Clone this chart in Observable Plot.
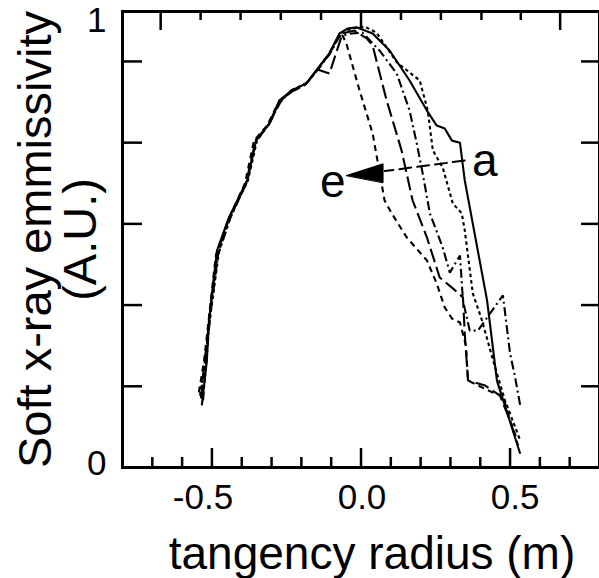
<!DOCTYPE html>
<html><head><meta charset="utf-8">
<script src="https://cdn.jsdelivr.net/npm/d3@7"></script>
<script src="https://cdn.jsdelivr.net/npm/@observablehq/plot@0.6"></script>
<style>body{margin:0;background:#fff}svg{display:block}</style>
</head><body><div id="chart"></div>
<script>
// tangency radius (m), soft x-ray emissivity (A.U.)
const curveA = [[-0.534,0.153],[-0.517,0.264],[-0.510,0.362],[-0.483,0.534],[-0.443,0.616],[-0.382,0.707],[-0.352,0.805],[-0.308,0.847],[-0.274,0.904],[-0.231,0.929],[-0.183,0.946],[-0.150,0.978],[-0.106,1.020],[-0.072,1.069],[-0.045,1.081],[-0.015,1.084],[0.039,1.069],[0.096,1.027],[0.163,0.953],[0.221,0.879],[0.254,0.842],[0.281,0.835],[0.305,0.805],[0.332,0.800],[0.348,0.707],[0.423,0.411],[0.456,0.214],[0.534,0.034]];
const curveB = [[-0.540,0.177],[-0.524,0.259],[-0.503,0.387],[-0.476,0.534],[-0.436,0.621],[-0.379,0.707],[-0.349,0.805],[-0.305,0.850],[-0.271,0.904],[-0.227,0.931],[-0.180,0.948],[-0.147,0.980],[-0.103,1.022],[-0.069,1.069],[-0.032,1.081],[0.012,1.086],[0.052,1.071],[0.120,0.998],[0.197,0.953],[0.224,0.879],[0.241,0.781],[0.274,0.739],[0.308,0.650],[0.338,0.626],[0.348,0.584],[0.375,0.429],[0.406,0.362],[0.443,0.264],[0.483,0.165],[0.534,0.067]];
const curveC = [[-0.530,0.165],[-0.520,0.251],[-0.507,0.367],[-0.480,0.522],[-0.439,0.613],[-0.386,0.700],[-0.355,0.800],[-0.308,0.847],[-0.271,0.899],[-0.234,0.929],[-0.187,0.943],[-0.150,0.975],[-0.106,1.017],[-0.072,1.062],[-0.032,1.069],[0.005,1.071],[0.062,1.027],[0.120,0.970],[0.163,0.879],[0.187,0.798],[0.207,0.724],[0.231,0.626],[0.274,0.542],[0.298,0.480],[0.332,0.522],[0.342,0.411],[0.365,0.337],[0.392,0.337],[0.476,0.424],[0.500,0.281],[0.517,0.222],[0.534,0.153]];
const curveD = [[-0.537,0.170],[-0.524,0.264],[-0.510,0.357],[-0.483,0.530],[-0.443,0.611],[-0.382,0.704],[-0.352,0.808],[-0.308,0.845],[-0.274,0.901],[-0.231,0.926],[-0.183,0.946],[-0.146,0.980],[-0.106,0.970],[-0.062,1.069],[-0.022,1.076],[0.019,1.057],[0.039,1.039],[0.086,0.904],[0.136,0.781],[0.173,0.658],[0.221,0.567],[0.264,0.468],[0.305,0.443],[0.342,0.419],[0.348,0.330],[0.359,0.214],[0.416,0.202],[0.466,0.177],[0.500,0.116],[0.527,0.054]];
const curveE = [[-0.544,0.185],[-0.527,0.259],[-0.513,0.350],[-0.487,0.522],[-0.446,0.608],[-0.389,0.700],[-0.359,0.805],[-0.315,0.842],[-0.278,0.897],[-0.237,0.924],[-0.190,0.941],[-0.153,0.973],[-0.110,1.015],[-0.079,1.057],[-0.062,1.064],[-0.049,1.044],[-0.005,0.929],[0.039,0.823],[0.079,0.658],[0.103,0.626],[0.153,0.567],[0.221,0.510],[0.254,0.453],[0.281,0.394],[0.305,0.367],[0.332,0.357],[0.352,0.300],[0.359,0.214],[0.449,0.182],[0.476,0.177],[0.500,0.116],[0.524,0.067]];

const seriesNames = ["a","b","c","d","e"];
const seriesPoints = [curveA, curveB, curveC, curveD, curveE];
const seriesDash = ["none", "3.5,3", "9,3.5,2,3.5", "14,5", "6,4.5"];

// axes
const xMajorTicks = [-0.5, 0.0, 0.5];
const xMinorTicks = [-0.7,-0.6,-0.4,-0.3,-0.2,-0.1,0.1,0.2,0.3,0.4,0.6,0.7];
const yTicks = [0.2, 0.4, 0.6, 0.8, 1.0];
const yTickLabels = [{value: 0, label: "0"}, {value: 1.09, label: "1"}];
const topMajorTicks = [-0.672, 0.0, 0.668];
const topMinorTicks = [-0.538,-0.404,-0.269,-0.134,0.134,0.268,0.404,0.536];
const xDomain = [-0.8, 0.8];
const yDomain = [0, 1.123];

// annotation: arrow from curve a to curve e
const arrowShaft = [[0.348,0.756],[0.080,0.730]];
const arrowHead = [[-0.049,0.719],[0.074,0.748],[0.074,0.702]];
const curveLabels = [{x: -0.095, y: 0.665, text: "e"}, {x: 0.415, y: 0.719, text: "a"}];

const rows = seriesNames.flatMap((s, i) => seriesPoints[i].map(([x, y]) => ({series: s, x, y})));

const font = "Liberation Sans, Arial, Helvetica, sans-serif";
const ymax = yDomain[1];
const tickLabelShift = [-9, 1, 5];

const plot = Plot.plot({
  width: 599, height: 578,
  marginLeft: 122, marginRight: 0, marginTop: 11, marginBottom: 111,
  style: {fontFamily: font, background: "white", overflow: "visible"},
  x: {domain: xDomain, axis: null},
  y: {domain: yDomain, axis: null},
  marks: [
    ...seriesNames.map((s, i) => Plot.line(rows.filter(r => r.series === s), {
      x: "x", y: "y", stroke: "black", strokeWidth: 2.1, strokeDasharray: seriesDash[i], strokeLinejoin: "miter", strokeLinecap: "butt"
    })),
    Plot.line(arrowShaft, {x: d => d[0], y: d => d[1], stroke: "black", strokeWidth: 2, strokeDasharray: "12,6"}),
    Plot.line(arrowHead, {x: d => d[0], y: d => d[1], fill: "black", stroke: "black", strokeWidth: 1, curve: "linear-closed"}),
    Plot.text(curveLabels, {x: "x", y: "y", text: "text", fontSize: 46, lineAnchor: "bottom", textAnchor: "middle", fill: "black"}),
    // frame
    Plot.frame({stroke: "black", strokeWidth: 3}),
    // bottom ticks
    Plot.ruleX(xMajorTicks, {x: d => d, y1: 0, y2: 0, insetTop: -19, strokeWidth: 2.5}),
    Plot.ruleX(xMinorTicks, {x: d => d, y1: 0, y2: 0, insetTop: -10, strokeWidth: 2.5}),
    // top ticks
    Plot.ruleX(topMajorTicks, {x: d => d, y1: ymax, y2: ymax, insetBottom: -19, strokeWidth: 2.5}),
    Plot.ruleX(topMinorTicks, {x: d => d, y1: ymax, y2: ymax, insetBottom: -9, strokeWidth: 2.5}),
    // left & right ticks
    Plot.ruleY(yTicks, {y: d => d, x1: xDomain[0], x2: xDomain[0], insetRight: -20, strokeWidth: 2.5}),
    Plot.ruleY(yTicks, {y: d => d, x1: xDomain[1], x2: xDomain[1], insetLeft: -18, strokeWidth: 2.5}),
    // tick labels
    ...xMajorTicks.map((t, i) => Plot.text([t], {x: d => d, y: 0, text: d => d.toFixed(1), dx: tickLabelShift[i], dy: 17, lineAnchor: "top", textAnchor: "middle", fontSize: 35, fill: "black"})),
    Plot.text(yTickLabels, {x: xDomain[0], y: "value", text: "label", dx: -16, dy: -4, textAnchor: "end", fontSize: 35, fill: "black"}),
    // axis titles
    Plot.text(["tangency radius (m)"], {frameAnchor: "bottom", dx: 11, dy: 101, textAnchor: "middle", lineAnchor: "bottom", fontSize: 46, fill: "black"}),
    Plot.text(["Soft x-ray emmissivity"], {frameAnchor: "left", dx: -72, rotate: -90, textAnchor: "middle", lineAnchor: "bottom", fontSize: 47, fill: "black"}),
    Plot.text(["(A.U.)"], {frameAnchor: "left", dx: -27, rotate: -90, textAnchor: "middle", lineAnchor: "bottom", fontSize: 47, fill: "black"})
  ]
});
document.getElementById("chart").appendChild(plot);
</script>
</body></html>
